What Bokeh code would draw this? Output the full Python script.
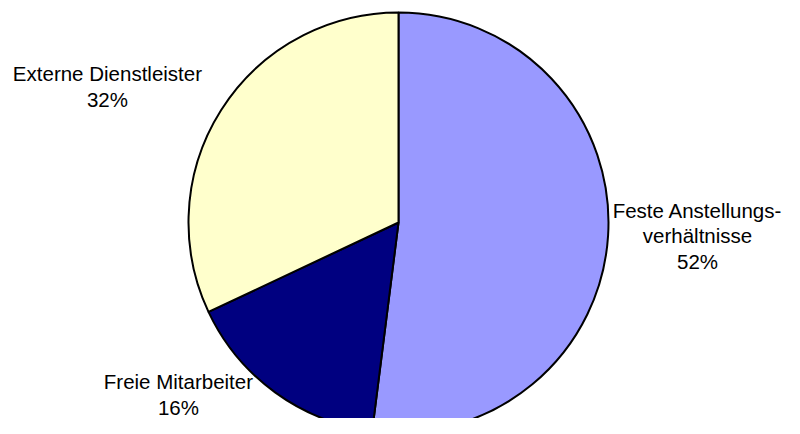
import math
from bokeh.plotting import figure
from bokeh.models import Range1d, ColumnDataSource
from bokeh.core.properties import value
from bokeh.embed import file_html
from bokeh.resources import INLINE

# Data
categories = ["Feste Anstellungs-\nverhältnisse", "Freie Mitarbeiter", "Externe Dienstleister"]
shares = [52, 16, 32]
colors = ["#9999FF", "#000080", "#FFFFCC"]

# label anchor positions (pie radius units) -- layout only
label_x = [1.424, -1.048, -1.386]
label_y = [-0.064, -0.819, 0.648]

W, H = 784, 418
R_PX = 210.0
CX, CY = 398.0, 222.0

total = float(sum(shares))
starts, ends = [], []
cum = 0.0
for s in shares:
    a0 = math.pi / 2 - 2 * math.pi * cum / total
    cum += s
    a1 = math.pi / 2 - 2 * math.pi * cum / total
    starts.append(a0)
    ends.append(a1)

src = ColumnDataSource(dict(start=starts, end=ends, color=colors))

p = figure(width=W, height=H, output_backend="svg", toolbar_location=None,
           x_range=Range1d(-CX / R_PX, (W - CX) / R_PX),
           y_range=Range1d(-(H - CY) / R_PX, CY / R_PX),
           min_border=0, outline_line_color=None)
p.axis.visible = False
p.grid.visible = False
p.background_fill_color = "white"
p.border_fill_color = "white"

p.wedge(x=0, y=0, radius=1.0, start_angle="start", end_angle="end",
        direction="clock", fill_color="color", line_color="black",
        line_width=2, source=src)

labels = [f"{c}\n{s}%" for c, s in zip(categories, shares)]
lsrc = ColumnDataSource(dict(x=label_x, y=label_y, text=labels))
p.text(x="x", y="y", text="text", source=lsrc, text_align="center",
       text_baseline="middle", text_font=value("Liberation Sans"),
       text_font_size="20.5px", text_color="black", text_line_height=1.1)

open("out.html", "w").write(file_html(p, INLINE))
